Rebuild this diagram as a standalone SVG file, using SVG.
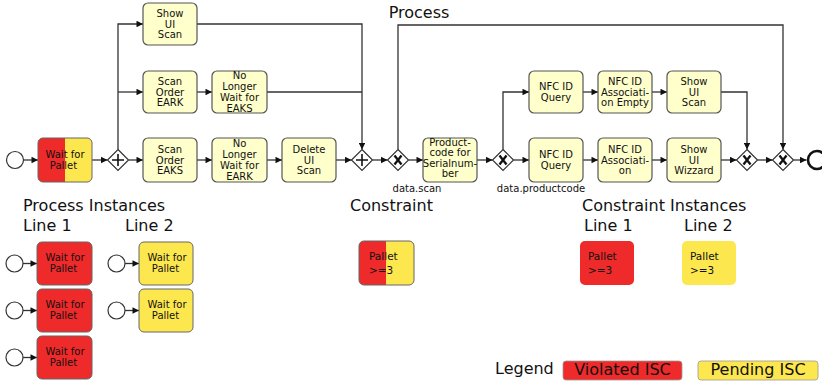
<svg xmlns="http://www.w3.org/2000/svg" width="822" height="384" viewBox="0 0 822 384">
  <style>
    .task { fill: #ffffcc; stroke: #555; stroke-width: 1.2; }
    .red { fill: #ee2a2a; }
    .yel { fill: #fde74e; }
    .frame { fill: none; stroke: #666; stroke-width: 1; }
    .gw { fill: #fff; stroke: #333; stroke-width: 1.2; }
    .gm { fill: none; stroke: #111; stroke-width: 1.6; }
    .gx { fill: none; stroke: #111; stroke-width: 2.3; }
    .ev { fill: #fff; stroke: #333; stroke-width: 1.2; }
    .end { fill: #fff; stroke: #111; stroke-width: 2.6; }
    .flow { fill: none; stroke: #333; stroke-width: 1.3; }
    .arr { marker-end: url(#arrow); }
    .t { font-family: "DejaVu Sans", sans-serif; font-size: 10px; fill: #111; text-anchor: middle; }
    .tc { font-family: "DejaVu Sans", sans-serif; font-size: 10px; fill: #111; text-anchor: middle; }
    .tp { font-family: "DejaVu Sans", sans-serif; font-size: 10.5px; fill: #111; }
    .lbl { font-family: "DejaVu Sans", sans-serif; font-size: 10px; fill: #111; text-anchor: middle; }
    .h { font-family: "DejaVu Sans", sans-serif; font-size: 16px; fill: #111; }
  </style>
  <defs>
    <marker id="arrow" viewBox="0 0 10 10" refX="10" refY="5" markerWidth="8" markerHeight="6.5" orient="auto" markerUnits="userSpaceOnUse">
      <path d="M0,0 L10,5 L0,10 z" fill="#111"/>
    </marker>
  </defs>

  <!-- headings -->
  <text class="h" x="419" y="18" text-anchor="middle">Process</text>
  <text class="h" x="23" y="211">Process Instances</text>
  <text class="h" x="23" y="231">Line 1</text>
  <text class="h" x="125" y="231">Line 2</text>
  <text class="h" x="350" y="211">Constraint</text>
  <text class="h" x="582" y="211">Constraint Instances</text>
  <text class="h" x="584" y="231">Line 1</text>
  <text class="h" x="684" y="231">Line 2</text>

  <!-- connectors -->
  <g id="connectors">
    <path class="flow arr" d="M23.5,160 H38"/>
    <path class="flow arr" d="M92,160 H107.5"/>
    <path class="flow arr" d="M118,149.5 V24 H143"/>
    <path class="flow arr" d="M118,92 H143"/>
    <path class="flow arr" d="M128.5,160 H143"/>
    <path class="flow arr" d="M197,24 H362 V149.5"/>
    <path class="flow arr" d="M197,92 H212"/>
    <path class="flow" d="M267,92 H362"/>
    <path class="flow arr" d="M197,160 H212"/>
    <path class="flow arr" d="M267,160 H282"/>
    <path class="flow arr" d="M336,160 H351.5"/>
    <path class="flow arr" d="M372.5,160 H387.5"/>
    <path class="flow arr" d="M408.5,160 H423"/>
    <path class="flow arr" d="M477,160 H492.5"/>
    <path class="flow arr" d="M513.5,160 H529"/>
    <path class="flow arr" d="M503,149.5 V92 H529"/>
    <path class="flow arr" d="M583,92 H598"/>
    <path class="flow arr" d="M652,92 H667"/>
    <path class="flow arr" d="M583,160 H598"/>
    <path class="flow arr" d="M652,160 H667"/>
    <path class="flow arr" d="M721,92 H747 V149.5"/>
    <path class="flow arr" d="M721,160 H736.5"/>
    <path class="flow arr" d="M757.5,160 H772.5"/>
    <path class="flow arr" d="M793.5,160 H806.5"/>
    <path class="flow arr" d="M398,149.5 V25 H783 V149.5"/>
    <!-- instance starts -->
    <path class="flow arr" d="M23,263.5 H37"/>
    <path class="flow arr" d="M23,310.5 H37"/>
    <path class="flow arr" d="M23,357.5 H37"/>
    <path class="flow arr" d="M125,263.5 H139"/>
    <path class="flow arr" d="M125,310.5 H139"/>
  </g>

  <!-- process model -->
  <g id="start"><circle class="ev" cx="15" cy="160" r="8.5"/></g>

  <g id="waitPallet">
    <rect class="red" x="38" y="138" width="27" height="44" rx="5"/>
    <rect class="red" x="55" y="138" width="10" height="44"/>
    <rect class="yel" x="65" y="138" width="27" height="44" rx="5"/>
    <rect class="yel" x="65" y="138" width="10" height="44"/>
    <rect class="frame" x="38" y="138" width="54" height="44" rx="5"/>
    <text class="tc" x="65" y="158">Wait for<tspan x="63.5" dy="11.2">Pallet</tspan></text>
  </g>

  <g id="split">
    <path class="gw" d="M118,149.5 L128.5,160 L118,170.5 L107.5,160 z"/>
    <path class="gm" d="M112,160 H124 M118,154 V166"/>
  </g>

  <g id="showScan1">
    <rect class="task" x="143" y="3" width="54" height="42" rx="5"/>
    <text class="t" x="170" y="16.7">Show<tspan x="170" dy="10.8">UI</tspan><tspan x="170" dy="10.8">Scan</tspan></text>
  </g>
  <g id="scanEARK">
    <rect class="task" x="143" y="71" width="54" height="42" rx="5"/>
    <text class="t" x="170" y="84.7">Scan<tspan x="170" dy="10.8">Order</tspan><tspan x="170" dy="10.8">EARK</tspan></text>
  </g>
  <g id="noWaitEAKS">
    <rect class="task" x="212" y="71" width="55" height="42" rx="5"/>
    <text class="t" x="239.5" y="79.3">No<tspan x="239.5" dy="10.8">Longer</tspan><tspan x="239.5" dy="10.8">Wait for</tspan><tspan x="239.5" dy="10.8">EAKS</tspan></text>
  </g>
  <g id="scanEAKS">
    <rect class="task" x="143" y="138" width="54" height="44" rx="5"/>
    <text class="t" x="170" y="152.7">Scan<tspan x="170" dy="10.8">Order</tspan><tspan x="170" dy="10.8">EAKS</tspan></text>
  </g>
  <g id="noWaitEARK">
    <rect class="task" x="212" y="138" width="55" height="44" rx="5"/>
    <text class="t" x="239.5" y="147.3">No<tspan x="239.5" dy="10.8">Longer</tspan><tspan x="239.5" dy="10.8">Wait for</tspan><tspan x="239.5" dy="10.8">EARK</tspan></text>
  </g>
  <g id="deleteScan">
    <rect class="task" x="282" y="138" width="54" height="44" rx="5"/>
    <text class="t" x="309" y="152.7">Delete<tspan x="309" dy="10.8">UI</tspan><tspan x="309" dy="10.8">Scan</tspan></text>
  </g>

  <g id="join">
    <path class="gw" d="M362,149.5 L372.5,160 L362,170.5 L351.5,160 z"/>
    <path class="gm" d="M356,160 H368 M362,154 V166"/>
  </g>

  <g id="xorScan">
    <path class="gw" d="M398,149.5 L408.5,160 L398,170.5 L387.5,160 z"/>
    <path class="gx" d="M394.5,155.5 L401.5,164.5 M401.5,155.5 L394.5,164.5"/>
    <text class="lbl" x="417" y="192">data.scan</text>
  </g>

  <g id="productCode">
    <rect class="task" x="423" y="138" width="54" height="44" rx="5"/>
    <text class="t" x="450" y="145.7">Product-<tspan x="450" dy="10.4">code for</tspan><tspan x="450" dy="10.4">Serialnum-</tspan><tspan x="450" dy="10.4">ber</tspan></text>
  </g>

  <g id="xorCode">
    <path class="gw" d="M503,149.5 L513.5,160 L503,170.5 L492.5,160 z"/>
    <path class="gx" d="M499.5,155.5 L506.5,164.5 M506.5,155.5 L499.5,164.5"/>
    <text class="lbl" x="541" y="192">data.productcode</text>
  </g>

  <g id="nfcQuery1">
    <rect class="task" x="529" y="71" width="54" height="42" rx="5"/>
    <text class="t" x="556" y="90.1">NFC ID<tspan x="556" dy="10.8">Query</tspan></text>
  </g>
  <g id="nfcAssocEmpty">
    <rect class="task" x="598" y="71" width="54" height="42" rx="5"/>
    <text class="t" x="625" y="84.7">NFC ID<tspan x="625" dy="10.8">Associati-</tspan><tspan x="625" dy="10.8">on Empty</tspan></text>
  </g>
  <g id="showScan2">
    <rect class="task" x="667" y="71" width="54" height="42" rx="5"/>
    <text class="t" x="694" y="84.7">Show<tspan x="694" dy="10.8">UI</tspan><tspan x="694" dy="10.8">Scan</tspan></text>
  </g>
  <g id="nfcQuery2">
    <rect class="task" x="529" y="138" width="54" height="44" rx="5"/>
    <text class="t" x="556" y="158.1">NFC ID<tspan x="556" dy="10.8">Query</tspan></text>
  </g>
  <g id="nfcAssoc">
    <rect class="task" x="598" y="138" width="54" height="44" rx="5"/>
    <text class="t" x="625" y="152.7">NFC ID<tspan x="625" dy="10.8">Associati-</tspan><tspan x="625" dy="10.8">on</tspan></text>
  </g>
  <g id="showWizzard">
    <rect class="task" x="667" y="138" width="54" height="44" rx="5"/>
    <text class="t" x="694" y="152.7">Show<tspan x="694" dy="10.8">UI</tspan><tspan x="694" dy="10.8">Wizzard</tspan></text>
  </g>

  <g id="xorMerge1">
    <path class="gw" d="M747,149.5 L757.5,160 L747,170.5 L736.5,160 z"/>
    <path class="gx" d="M743.5,155.5 L750.5,164.5 M750.5,155.5 L743.5,164.5"/>
  </g>
  <g id="xorMerge2">
    <path class="gw" d="M783,149.5 L793.5,160 L783,170.5 L772.5,160 z"/>
    <path class="gx" d="M779.5,155.5 L786.5,164.5 M786.5,155.5 L779.5,164.5"/>
  </g>
  <g id="end"><circle class="end" cx="817" cy="160" r="9"/></g>

  <!-- process instances -->
  <g id="inst1a">
    <circle class="ev" cx="14.5" cy="263.5" r="8.5"/>
    <rect class="red" x="37" y="242" width="55" height="43" rx="5" stroke="#666" stroke-width="1"/>
    <text class="tc" x="65" y="261">Wait for<tspan x="63.5" dy="11.2">Pallet</tspan></text>
  </g>
  <g id="inst1b">
    <circle class="ev" cx="14.5" cy="310.5" r="8.5"/>
    <rect class="red" x="37" y="289" width="55" height="43" rx="5" stroke="#666" stroke-width="1"/>
    <text class="tc" x="65" y="308">Wait for<tspan x="63.5" dy="11.2">Pallet</tspan></text>
  </g>
  <g id="inst1c">
    <circle class="ev" cx="14.5" cy="357.5" r="8.5"/>
    <rect class="red" x="37" y="336" width="55" height="43" rx="5" stroke="#666" stroke-width="1"/>
    <text class="tc" x="65" y="355">Wait for<tspan x="63.5" dy="11.2">Pallet</tspan></text>
  </g>
  <g id="inst2a">
    <circle class="ev" cx="116.5" cy="263.5" r="8.5"/>
    <rect class="yel" x="139" y="242" width="54" height="43" rx="5" stroke="#666" stroke-width="1"/>
    <text class="tc" x="167" y="261">Wait for<tspan x="165.5" dy="11.2">Pallet</tspan></text>
  </g>
  <g id="inst2b">
    <circle class="ev" cx="116.5" cy="310.5" r="8.5"/>
    <rect class="yel" x="139" y="289" width="54" height="43" rx="5" stroke="#666" stroke-width="1"/>
    <text class="tc" x="167" y="308">Wait for<tspan x="165.5" dy="11.2">Pallet</tspan></text>
  </g>

  <!-- constraint -->
  <g id="constraint">
    <rect class="red" x="359" y="241" width="27" height="44" rx="5"/>
    <rect class="red" x="376" y="241" width="10" height="44"/>
    <rect class="yel" x="386" y="241" width="28" height="44" rx="5"/>
    <rect class="yel" x="386" y="241" width="10" height="44"/>
    <rect class="frame" x="359" y="241" width="55" height="44" rx="5"/>
    <text class="tp" x="369" y="260">Pallet<tspan x="369" dy="14">&gt;=3</tspan></text>
  </g>

  <!-- constraint instances -->
  <g id="cinst1">
    <rect class="red" x="580" y="241" width="54" height="44" rx="5"/>
    <text class="tp" x="588" y="260">Pallet<tspan x="588" dy="14">&gt;=3</tspan></text>
  </g>
  <g id="cinst2">
    <rect class="yel" x="682" y="241" width="54" height="44" rx="5"/>
    <text class="tp" x="690" y="260">Pallet<tspan x="690" dy="14">&gt;=3</tspan></text>
  </g>

  <!-- legend -->
  <g id="legend">
    <text class="h" x="495" y="374">Legend</text>
    <rect class="red" x="563" y="361" width="119" height="19" rx="3" stroke="#999" stroke-width="0.8"/>
    <text class="h" x="622.5" y="375" text-anchor="middle">Violated ISC</text>
    <rect class="yel" x="698" y="361" width="120" height="19" rx="3" stroke="#999" stroke-width="0.8"/>
    <text class="h" x="758" y="375" text-anchor="middle">Pending ISC</text>
  </g>
</svg>
